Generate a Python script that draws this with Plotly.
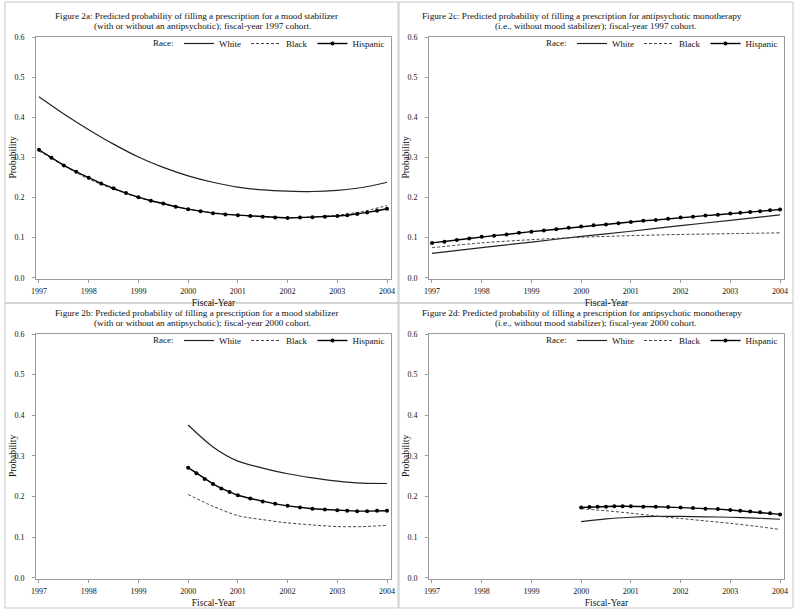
import plotly.graph_objects as go

# ---------------- data ----------------
YEARS = [1997, 1998, 1999, 2000, 2001, 2002, 2003, 2004]
Y_TICKS = [0.0, 0.1, 0.2, 0.3, 0.4, 0.5, 0.6]

TITLE_LINE1 = [
    "Figure 2a: Predicted probability of filling a prescription for a mood stabilizer",
    "Figure 2c: Predicted probability of filling a prescription for antipsychotic monotherapy",
    "Figure 2b: Predicted probability of filling a prescription for a mood stabilizer",
    "Figure 2d: Predicted probability of filling a prescription for antipsychotic monotherapy",
]
TITLE_LINE2 = [
    "(with or without an antipsychotic); fiscal-year 1997 cohort.",
    "(i.e., without mood stabilizer); fiscal-year 1997 cohort.",
    "(with or without an antipsychotic); fiscal-year 2000 cohort.",
    "(i.e., without mood stabilizer); fiscal-year 2000 cohort.",
]

# Panel a (1997 cohort, mood stabilizer)
a_white_x = [1997, 1997.5, 1998, 1998.5, 1999, 1999.5, 2000, 2000.5, 2001, 2001.5, 2002, 2002.5, 2003, 2003.5, 2004]
a_white_y = [0.451, 0.408, 0.369, 0.333, 0.301, 0.275, 0.254, 0.238, 0.226, 0.219, 0.216, 0.215, 0.218, 0.225, 0.238]
a_black_x = [1997, 1998, 1999, 2000, 2001, 2002, 2003, 2003.5, 2004]
a_black_y = [0.316, 0.246, 0.200, 0.171, 0.156, 0.150, 0.156, 0.165, 0.180]
a_hisp_x = [1997, 1997.25, 1997.5, 1997.75, 1998, 1998.25, 1998.5, 1998.75, 1999, 1999.25, 1999.5, 1999.75,
            2000, 2000.25, 2000.5, 2000.75, 2001, 2001.25, 2001.5, 2001.75, 2002, 2002.25, 2002.5, 2002.75,
            2003, 2003.2, 2003.4, 2003.6, 2003.8, 2004]
a_hisp_y = [0.319, 0.299, 0.280, 0.264, 0.249, 0.235, 0.223, 0.211, 0.201, 0.192, 0.185, 0.177,
            0.171, 0.166, 0.161, 0.158, 0.156, 0.154, 0.152, 0.150, 0.149, 0.150, 0.151, 0.152,
            0.154, 0.156, 0.159, 0.163, 0.167, 0.172]

# Panel c (1997 cohort, antipsychotic monotherapy)
c_white_x = [1997, 1998, 1999, 2000, 2001, 2002, 2003, 2004]
c_white_y = [0.061, 0.075, 0.089, 0.103, 0.116, 0.130, 0.143, 0.157]
c_black_x = [1997, 1998, 1999, 2000, 2001, 2002, 2003, 2004]
c_black_y = [0.075, 0.087, 0.095, 0.101, 0.105, 0.108, 0.110, 0.112]
c_hisp_x = a_hisp_x
c_hisp_y = [0.087, 0.090, 0.094, 0.098, 0.102, 0.105, 0.108, 0.112, 0.115, 0.118, 0.121, 0.125,
            0.128, 0.131, 0.133, 0.136, 0.139, 0.142, 0.144, 0.147, 0.150, 0.152, 0.155, 0.157,
            0.160, 0.162, 0.164, 0.166, 0.168, 0.170]

# Panel b (2000 cohort, mood stabilizer)
b_white_x = [2000, 2000.5, 2001, 2001.5, 2002, 2002.5, 2003, 2003.5, 2004]
b_white_y = [0.376, 0.322, 0.287, 0.270, 0.256, 0.246, 0.238, 0.233, 0.232]
b_black_x = [2000, 2000.5, 2001, 2001.5, 2002, 2002.5, 2003, 2003.5, 2004]
b_black_y = [0.205, 0.176, 0.153, 0.143, 0.135, 0.130, 0.126, 0.126, 0.129]
b_hisp_x = [2000, 2000.167, 2000.333, 2000.5, 2000.667, 2000.833, 2001, 2001.25, 2001.5, 2001.75,
            2002, 2002.25, 2002.5, 2002.75, 2003, 2003.2, 2003.4, 2003.6, 2003.8, 2004]
b_hisp_y = [0.271, 0.257, 0.243, 0.231, 0.220, 0.211, 0.203, 0.195, 0.188, 0.182,
            0.177, 0.173, 0.170, 0.168, 0.166, 0.165, 0.164, 0.164, 0.165, 0.165]

# Panel d (2000 cohort, antipsychotic monotherapy)
d_white_x = [2000, 2000.5, 2001, 2001.5, 2002, 2002.5, 2003, 2003.5, 2004]
d_white_y = [0.138, 0.145, 0.149, 0.151, 0.151, 0.150, 0.149, 0.147, 0.144]
d_black_x = [2000, 2000.5, 2001, 2001.5, 2002, 2002.5, 2003, 2003.5, 2004]
d_black_y = [0.170, 0.165, 0.159, 0.152, 0.146, 0.140, 0.134, 0.127, 0.119]
d_hisp_x = b_hisp_x
d_hisp_y = [0.173, 0.174, 0.175, 0.175, 0.176, 0.176, 0.176, 0.175, 0.175, 0.174,
            0.173, 0.172, 0.170, 0.169, 0.167, 0.165, 0.163, 0.161, 0.159, 0.156]

PANELS = [
    (a_white_x, a_white_y, a_black_x, a_black_y, a_hisp_x, a_hisp_y),
    (c_white_x, c_white_y, c_black_x, c_black_y, c_hisp_x, c_hisp_y),
    (b_white_x, b_white_y, b_black_x, b_black_y, b_hisp_x, b_hisp_y),
    (d_white_x, d_white_y, d_black_x, d_black_y, d_hisp_x, d_hisp_y),
]

# ---------------- layout geometry ----------------
W, H = 800, 616
FONT = "Liberation Serif, Times New Roman, serif"
TXT = "#111111"

# plot frames in pixels: (left, right, top, bottom)
frames = [(36, 391, 37, 279), (429, 784, 37, 279), (36, 391, 334, 579), (429, 784, 334, 579)]
# panel boxes in pixels: (left, right, top, bottom)
boxes = [(5, 398, 2, 303), (399, 793, 2, 303), (5, 398, 303, 608), (399, 793, 303, 608)]
# title line centres (px)
title_cx1 = [196, 582, 196, 582]
title_cx2 = [202, 596, 202, 596]

fig = go.Figure()
legend_names = ["legend", "legend2", "legend3", "legend4"]

for i, (wx, wy, bx, by, hx, hy) in enumerate(PANELS):
    xa = "x" if i == 0 else f"x{i+1}"
    ya = "y" if i == 0 else f"y{i+1}"
    lg = legend_names[i]
    fig.add_trace(go.Scatter(x=wx, y=wy, mode="lines", name="White", xaxis=xa, yaxis=ya, legend=lg,
                             line=dict(color="#222222", width=1.2, shape="spline", smoothing=0.8)))
    fig.add_trace(go.Scatter(x=bx, y=by, mode="lines", name="Black", xaxis=xa, yaxis=ya, legend=lg,
                             line=dict(color="#444444", width=1, dash="3px,2px", shape="spline", smoothing=0.8)))
    fig.add_trace(go.Scatter(x=hx, y=hy, mode="lines+markers", name="Hispanic", xaxis=xa, yaxis=ya, legend=lg,
                             line=dict(color="#000000", width=1.4),
                             marker=dict(color="#000000", size=4, symbol="circle")))

layout = dict(
    width=W, height=H, margin=dict(l=0, r=0, t=0, b=0, autoexpand=False),
    paper_bgcolor="white", plot_bgcolor="white",
    font=dict(family=FONT, color=TXT, size=8),
    showlegend=True,
)

axis_common = dict(showline=True, mirror=True, linecolor="#9a9a9a", linewidth=1,
                   showgrid=False, zeroline=False, ticks="outside", ticklen=3, automargin=False,
                   ticklabeloverflow="allow",
                   tickcolor="#9a9a9a", tickfont=dict(family=FONT, size=8, color=TXT))

shapes = []
annotations = []
for i, (l, r, t, b) in enumerate(frames):
    sfx = "" if i == 0 else str(i + 1)
    xdom = [l / W, r / W]
    ydom = [1 - b / H, 1 - t / H]
    ax_x = dict(axis_common, domain=xdom, range=[1996.94, 2004.08], tickvals=YEARS,
                ticktext=[str(v) for v in YEARS], anchor="y" + sfx, ticklabelstandoff=1,
                title=dict(text="Fiscal-Year", font=dict(family=FONT, size=9.5, color=TXT), standoff=4))
    ax_y = dict(axis_common, domain=ydom, range=[-0.003, 0.6], tickvals=Y_TICKS, tickformat=".1f",
                anchor="x" + sfx, ticklabelstandoff=6)
    layout["xaxis" + sfx] = ax_x
    layout["yaxis" + sfx] = ax_y
    # y-axis title
    annotations.append(dict(text="Probability", xref="paper", yref="paper", x=(l - 23.5) / W,
                            y=1 - ((t + b) / 2) / H, xanchor="center", yanchor="middle", textangle=-90,
                            showarrow=False, font=dict(family=FONT, size=9.5, color=TXT)))
    lg = legend_names[i]
    layout[lg] = dict(orientation="h", x=(r - 1) / W, y=1 - (t - 8) / H, xanchor="right", yanchor="top",
                      xref="paper", yref="paper", bgcolor="rgba(0,0,0,0)", borderwidth=0,
                      itemwidth=30, tracegroupgap=0,
                      font=dict(family=FONT, size=9, color=TXT))
    annotations.append(dict(text="Race:", xref="paper", yref="paper", x=(r - 1 - 214) / W,
                            y=1 - (t + 6) / H, xanchor="right", yanchor="middle", showarrow=False,
                            font=dict(family=FONT, size=9, color=TXT)))
    bl, br, bt, bb = boxes[i]
    shapes.append(dict(type="rect", xref="paper", yref="paper", x0=bl / W, x1=br / W,
                       y0=1 - bb / H, y1=1 - bt / H, line=dict(color="#c8c8c8", width=1)))
    annotations.append(dict(text=TITLE_LINE1[i], xref="paper", yref="paper", x=title_cx1[i] / W,
                            y=1 - (t - 21) / H, xanchor="center", yanchor="middle", showarrow=False,
                            font=dict(family=FONT, size=9.2, color=TXT)))
    annotations.append(dict(text=TITLE_LINE2[i], xref="paper", yref="paper", x=title_cx2[i] / W,
                            y=1 - (t - 11) / H, xanchor="center", yanchor="middle", showarrow=False,
                            font=dict(family=FONT, size=9.2, color=TXT)))

layout["shapes"] = shapes
layout["annotations"] = annotations
fig.update_layout(**layout)
fig.write_html("out.html", config={"displayModeBar": False},
               post_script="document.body.style.margin='0';document.body.style.overflow='hidden';")
